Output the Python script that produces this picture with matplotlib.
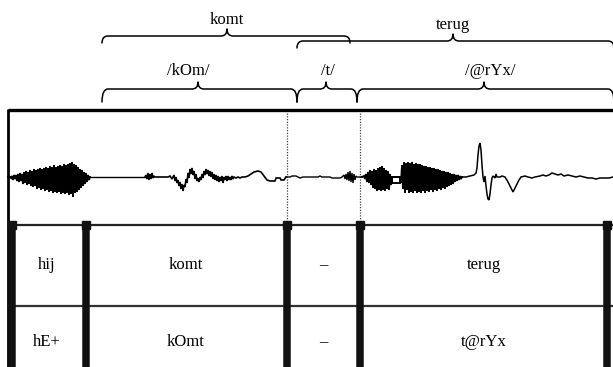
import matplotlib
matplotlib.use("Agg")
import matplotlib.pyplot as plt
from matplotlib.path import Path
from matplotlib.patches import PathPatch

# ---------------- data ----------------
word_labels = ["komt", "terug"]
phon_labels = ["/kOm/", "/t/", "/@rYx/"]
row1_texts = ["hij", "komt", "\u2013", "terug"]
row2_texts = ["hE+", "kOmt", "\u2013", "t@rYx"]

# waveform trace, (x pixel, amplitude in pixels above zero line)
seg_hij = [(8, 0), (10, 0), (11, -1), (12, 1), (13, -3), (14, 2), (15, -2), (16, 2), (17, -4), (18, 3),
           (19, -5), (20, 4), (21, -4), (22, 3), (23, -7), (24, 5), (25, -6), (26, 6), (27, -8), (28, 5),
           (29, -7), (30, 7), (31, -9), (32, 6), (33, -10), (34, 8), (35, -9), (36, 7), (37, -12), (38, 8),
           (39, -11), (40, 9), (41, -13), (42, 8), (43, -12), (44, 9), (45, -14), (46, 10), (47, -13), (48, 9),
           (49, -15), (50, 11), (51, -14), (52, 10), (53, -16), (54, 12), (55, -15), (56, 10), (57, -16), (58, 11),
           (59, -15), (60, 12), (61, -17), (62, 11), (63, -16), (64, 13), (65, -17), (66, 12), (67, -16), (68, 13),
           (69, -18), (70, 14), (71, -17), (72, 15), (73, -20), (74, 13), (75, -16), (76, 12), (77, -15), (78, 10),
           (79, -13), (80, 8), (81, -11), (82, 7), (83, -9), (84, 5), (85, -7), (86, 4), (87, -5), (88, 2),
           (89, -3), (90, 0)]
seg_komt = [(145, 0), (146, 2), (147, -2), (148, 4), (149, -3), (150, 3), (151, -2), (152, 4), (153, -1),
            (154, 1), (155, 0), (168, 0), (170, 1), (172, -2), (174, 2), (175, -4), (176, 0), (177, -6),
            (178, -3), (179, -9), (180, -5), (181, -12), (182, -7), (183, -14), (184, -8), (185, -10),
            (186, -2), (187, -6), (188, 4), (189, -1), (190, 8), (191, 3), (192, 9), (193, 2), (194, 6),
            (195, -2), (196, 3), (197, -4), (198, -1), (199, -5), (200, 0), (201, -3), (202, 3), (203, -1),
            (204, 6), (205, 2), (206, 8), (207, 3), (208, 7), (209, 1), (210, 6), (211, 0), (212, 5),
            (213, -2), (214, 3), (215, -3), (216, 2), (217, -4), (218, 1), (219, -5), (220, 0), (221, -4),
            (222, 1), (223, -6), (224, 0), (225, -3), (226, 1), (227, -4), (228, 1), (229, -3), (230, 0),
            (231, -3), (232, 1), (233, -2), (234, 0), (236, -1), (238, 0), (240, -1), (242, 0), (245, 0),
            (248, 1), (251, 3), (254, 5), (258, 6), (261, 5), (264, 1), (267, -3), (270, -4), (275, -4),
            (276, -1), (280, -1), (281, -3), (284, -3), (286, 0)]
seg_gap = [(286, 0), (290, 0), (292, 1), (296, 1), (298, 0), (300, -1), (303, 0), (318, 0), (320, 1),
           (322, 0), (330, 0), (332, -1), (340, -1), (342, 0), (344, 2), (345, -2), (346, 3), (347, -3),
           (348, 5), (349, -4), (350, 6), (351, -5), (352, 4), (353, -6), (354, 3), (355, -3), (356, 1),
           (357, 0), (362, 0)]
seg_te = [(362, 0), (364, 1), (365, -2), (366, 3), (367, -5), (368, 5), (369, -6), (370, 7), (371, -8),
          (372, 6), (373, -11), (374, 8), (375, -12), (376, 7), (377, -14), (378, 9), (379, -13), (380, 10),
          (381, -14), (382, 11), (383, -13), (384, 9), (385, -14), (386, 7), (387, -12), (388, 6), (389, -13),
          (390, 3), (391, -8), (392, 0), (400, 0), (400, -6), (392, -6), (392, 0), (400, 0)]
seg_rug = [(400, 0), (401, -6), (402, 12), (403, -12), (404, 15), (405, -16), (406, 14), (407, -13),
           (408, 15), (409, -16), (410, 14), (411, -15), (412, 15), (413, -16), (414, 13), (415, -14),
           (416, 14), (417, -16), (418, 13), (419, -15), (420, 13), (421, -16), (422, 12), (423, -14),
           (424, 11), (425, -16), (426, 11), (427, -14), (428, 10), (429, -15), (430, 10), (431, -13),
           (432, 9), (433, -15), (434, 9), (435, -13), (436, 8), (437, -14), (438, 8), (439, -12), (440, 7),
           (441, -13), (442, 6), (443, -11), (444, 6), (445, -12), (446, 5), (447, -10), (448, 5), (449, -9),
           (450, 4), (451, -8), (452, 3), (453, -7), (454, 3), (455, -5), (456, 2), (457, -4), (458, 2),
           (459, -3), (460, 1), (461, -2), (462, 0)]
seg_tail = [(462, 0), (466, 0), (470, 1), (474, 2), (476, 4), (477, 9), (478, 22), (479, 31), (480, 34),
            (481, 27), (482, 12), (483, 0), (484, -5), (485, 1), (486, -9), (487, -17), (488, -22),
            (489, -23), (490, -17), (491, -8), (492, -1), (493, 1), (494, 0), (495, -1), (496, 3), (497, 0),
            (500, 0), (502, 1), (505, 0), (508, -5), (511, -11), (513, -15), (516, -9), (519, -3), (521, 0),
            (525, 1), (528, 0), (532, -1), (535, 0), (540, 1), (543, 2), (546, 1), (549, 2), (552, 4),
            (555, 3), (558, 2), (561, 3), (564, 1), (568, 2), (572, 1), (576, 0), (580, 1), (584, 0),
            (588, -1), (592, -1), (596, -2), (600, -1), (605, -1), (609, -1), (613, 0)]

# ---------------- layout ----------------
W, H = 613, 367
fig = plt.figure(figsize=(W / 100, H / 100), dpi=100)
ax = fig.add_axes([0, 0, 1, 1])
ax.set_xlim(0, W)
ax.set_ylim(H, 0)
ax.axis("off")

FONT = "Liberation Serif"
FS = 12


def brace(x0, x1, xt, y, drop=7, rise=7, r=6, lw=1.1):
    verts = [(x0, y + drop), (x0, y), (x0 + r, y),
             (xt - r, y), (xt, y), (xt, y - rise),
             (xt, y), (xt + r, y),
             (x1 - r, y), (x1, y), (x1, y + drop)]
    codes = [Path.MOVETO, Path.CURVE3, Path.CURVE3,
             Path.LINETO, Path.CURVE3, Path.CURVE3,
             Path.CURVE3, Path.CURVE3,
             Path.LINETO, Path.CURVE3, Path.CURVE3]
    ax.add_patch(PathPatch(Path(verts, codes), fill=False, lw=lw, ec="black",
                           capstyle="round", joinstyle="round"))


# word braces
word_spans = [(102, 350, 227, 36), (297, 614, 453, 41)]
word_text_y = [20, 25]
for lab, (x0, x1, xt, y), ty in zip(word_labels, word_spans, word_text_y):
    brace(x0, x1, xt, y)
    ax.text(xt, ty, lab, ha="center", va="center", fontsize=FS, family=FONT)

# phoneme braces
phon_spans = [(102, 297, 198, 89), (297, 357, 326, 89), (357, 614, 484, 89)]
phon_text_x = [188, 328, 490]
for lab, (x0, x1, xt, y), tx in zip(phon_labels, phon_spans, phon_text_x):
    brace(x0, x1, xt, y, drop=13, rise=7, r=6)
    ax.text(tx, 71, lab, ha="center", va="center", fontsize=FS, family=FONT)

# outer box lines
ax.plot([8, W + 2], [110, 110], color="black", lw=2.4, solid_capstyle="butt")
ax.plot([8, 8], [109, H], color="black", lw=2.0, solid_capstyle="butt")
ax.plot([8, W + 2], [225, 225], color="#222222", lw=1.6, solid_capstyle="butt")
ax.plot([8, W + 2], [306, 306], color="#333333", lw=1.6, solid_capstyle="butt")

# dotted boundaries in the waveform panel
for xd in (287, 360):
    ax.plot([xd, xd], [113, 225], color="#444444", lw=0.9, ls=(0, (1, 1.2)))

# waveform
zero_y = 177
for seg, lw in ((seg_hij, 1.35), ([(90, 0), (145, 0)], 1.0), (seg_komt, 1.2), (seg_gap, 1.0),
                (seg_te, 1.35), (seg_rug, 1.35), (seg_tail, 1.1)):
    xs = [p[0] for p in seg]
    ys = [zero_y - p[1] for p in seg]
    ax.plot(xs, ys, color="black", lw=lw, solid_joinstyle="miter")

# table bars
bar_x = [12, 86, 287, 360, 607]
ax.vlines(bar_x, 225, H + 2, color="#111111", lw=5.4)
ax.plot(bar_x, [225] * len(bar_x), ls="none", marker="s", ms=6.2, color="#111111")

# table cell texts
cell_x = [47, 186, 323, 484]
for tx, t1, t2 in zip(cell_x, row1_texts, row2_texts):
    ax.text(tx, 265, t1, ha="center", va="center", fontsize=FS, family=FONT)
    ax.text(tx, 342, t2, ha="center", va="center", fontsize=FS, family=FONT)

fig.savefig("out.png", dpi=100, facecolor="white")
